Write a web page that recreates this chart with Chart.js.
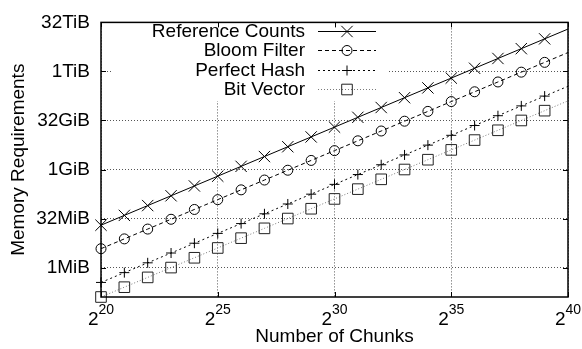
<!DOCTYPE html>
<html>
<head>
<meta charset="utf-8">
<script src="https://cdn.jsdelivr.net/npm/chart.js@4"></script>
<style>
  html, body { margin: 0; padding: 0; background: #fff; }
  #wrap { width: 582px; height: 349px; }
</style>
</head>
<body>
<div id="wrap"><canvas id="memChart" width="582" height="349"></canvas></div>
<script>
// number of chunks, as powers of two (2^20 .. 2^40)
const chunkExps = [20, 21, 22, 23, 24, 25, 26, 27, 28, 29, 30, 31, 32, 33, 34, 35, 36, 37, 38, 39, 40];

// memory requirements in MiB
const refCounts = [20, 40, 80, 160, 320, 640, 1280, 2560, 5120, 10240, 20480, 40960, 81920, 163840, 327680, 655360, 1310720, 2621440, 5242880, 10485760, 20971520];
const bloomFilter = [3.8, 7.6, 15.2, 30.4, 60.8, 121.6, 243.2, 486.4, 972.8, 1945.6, 3891.2, 7782.4, 15564.8, 31129.6, 62259.2, 124518.4, 249036.8, 498073.6, 996147.2, 1992294.4, 3984588.8];
const perfectHash = [0.35, 0.7, 1.4, 2.8, 5.6, 11.2, 22.4, 44.8, 89.6, 179.2, 358.4, 716.8, 1433.6, 2867.2, 5734.4, 11468.8, 22937.6, 45875.2, 91750.4, 183500.8, 367001.6];
const bitVector = [0.125, 0.25, 0.5, 1, 2, 4, 8, 16, 32, 64, 128, 256, 512, 1024, 2048, 4096, 8192, 16384, 32768, 65536, 131072];

const seriesNames = ['Reference Counts', 'Bloom Filter', 'Perfect Hash', 'Bit Vector'];

const xTickExps = [20, 25, 30, 35, 40];
const yTickMiB = [1, 32, 1024, 32768, 1048576, 33554432];
const yTickLabels = ['1MiB', '32MiB', '1GiB', '32GiB', '1TiB', '32TiB'];

const FONT = '"Liberation Sans", Arial, sans-serif';
const lastIdx = chunkExps.length - 1;

const toPoints = vals => chunkExps.map((e, i) => ({ x: e, y: vals[i] }));

const styles = [
  { color: '#000', dash: [], point: 'crossRot', r: 8, pcolor: '#000' },
  { color: '#000', dash: [4, 3], point: 'circle', r: 5, pcolor: '#000' },
  { color: '#000', dash: [2, 3], point: 'cross', r: 5, pcolor: '#000' },
  { color: '#7a7a7a', dash: [1, 2], point: 'rect', r: 7.5, pcolor: '#222' }
];
const seriesData = [refCounts, bloomFilter, perfectHash, bitVector];

function marker(ctx, style, r, x, y) {
  ctx.beginPath();
  if (style === 'crossRot') {
    const o = r * Math.SQRT1_2;
    ctx.moveTo(x - o, y - o); ctx.lineTo(x + o, y + o);
    ctx.moveTo(x - o, y + o); ctx.lineTo(x + o, y - o);
  } else if (style === 'circle') {
    ctx.arc(x, y, r, 0, Math.PI * 2);
  } else if (style === 'cross') {
    ctx.moveTo(x - r, y); ctx.lineTo(x + r, y);
    ctx.moveTo(x, y - r); ctx.lineTo(x, y + r);
  } else {
    const s = r * Math.SQRT1_2;
    ctx.rect(x - s, y - s, 2 * s, 2 * s);
  }
  ctx.stroke();
}

const gnuplotLook = {
  id: 'gnuplotLook',
  beforeDatasetsDraw(chart) {
    // opaque key box hides the grid behind it
    const ctx = chart.ctx;
    ctx.save();
    ctx.fillStyle = '#fff';
    ctx.fillRect(113, 16, 275, 85);
    ctx.restore();
  },
  afterDraw(chart) {
    const { ctx, chartArea: a, scales } = chart;
    ctx.save();
    ctx.setLineDash([]);
    ctx.strokeStyle = '#000';

    // inner tick marks
    ctx.lineWidth = 1;
    ctx.beginPath();
    yTickMiB.forEach(v => {
      const y = Math.round(scales.y.getPixelForValue(v)) + 0.5;
      ctx.moveTo(a.left, y); ctx.lineTo(a.left + 5, y);
      ctx.moveTo(a.right, y); ctx.lineTo(a.right - 5, y);
    });
    xTickExps.forEach(e => {
      const x = Math.round(scales.x.getPixelForValue(e)) + 0.5;
      ctx.moveTo(x, a.bottom); ctx.lineTo(x, a.bottom - 5);
      ctx.moveTo(x, a.top); ctx.lineTo(x, a.top + 5);
    });
    ctx.stroke();

    // border
    ctx.lineWidth = 1.5;
    ctx.strokeRect(a.left, a.top, a.right - a.left, a.bottom - a.top);

    // x tick labels 2^n
    ctx.fillStyle = '#000';
    ctx.textAlign = 'left';
    ctx.textBaseline = 'alphabetic';
    xTickExps.forEach(e => {
      const px = scales.x.getPixelForValue(e);
      ctx.font = '19px ' + FONT;
      const wb = ctx.measureText('2').width;
      ctx.font = '14px ' + FONT;
      const we = ctx.measureText(String(e)).width;
      const x0 = px - (wb + we) / 2;
      ctx.font = '19px ' + FONT;
      ctx.fillText('2', x0, a.bottom + 28);
      ctx.font = '14px ' + FONT;
      ctx.fillText(String(e), x0 + wb, a.bottom + 17);
    });

    // key
    ctx.font = '19px ' + FONT;
    ctx.textAlign = 'right';
    ctx.textBaseline = 'middle';
    seriesNames.forEach((name, i) => {
      const y = 30.5 + i * 19.5;
      const st = styles[i];
      ctx.fillStyle = '#000';
      ctx.fillText(name, 305, y + 1);
      ctx.lineWidth = 1;
      ctx.strokeStyle = st.color;
      ctx.setLineDash(st.dash);
      ctx.beginPath();
      ctx.moveTo(318, Math.round(y) + 0.5);
      ctx.lineTo(376, Math.round(y) + 0.5);
      ctx.stroke();
      ctx.setLineDash([]);
      ctx.strokeStyle = st.pcolor;
      marker(ctx, st.point, st.r, 347, Math.round(y) + 0.5);
    });
    ctx.restore();
  }
};

new Chart(document.getElementById('memChart'), {
  type: 'line',
  data: {
    datasets: seriesNames.map((name, i) => ({
      label: name,
      data: toPoints(seriesData[i]),
      borderColor: styles[i].color,
      borderWidth: 1,
      borderDash: styles[i].dash,
      backgroundColor: 'rgba(0,0,0,0)',
      pointStyle: styles[i].point,
      pointRadius: ctx => (ctx.dataIndex === lastIdx ? 0 : styles[i].r),
      pointBorderColor: styles[i].pcolor,
      pointBackgroundColor: 'rgba(0,0,0,0)',
      pointBorderWidth: 1,
      tension: 0,
      clip: false
    }))
  },
  options: {
    responsive: false,
    animation: false,
    devicePixelRatio: 1,
    layout: { padding: { top: 15, right: 14, left: 0, bottom: 0 } },
    plugins: { legend: { display: false }, tooltip: { enabled: false } },
    scales: {
      x: {
        type: 'linear',
        min: 20,
        max: 40,
        afterBuildTicks: s => { s.ticks = xTickExps.map(v => ({ value: v })); },
        afterFit: s => { s.height = 52; },
        ticks: { callback: () => '', font: { family: FONT, size: 19 } },
        grid: { color: '#555', lineWidth: 1, drawTicks: false },
        border: { display: false, dash: [1, 2] },
        title: {
          display: true,
          text: 'Number of Chunks',
          color: '#000',
          font: { family: FONT, size: 19 },
          padding: { top: 0, bottom: 1 }
        }
      },
      y: {
        type: 'logarithmic',
        min: 0.125,
        max: 33554432,
        afterBuildTicks: s => { s.ticks = yTickMiB.map(v => ({ value: v })); },
        afterFit: s => { s.width = 101; },
        ticks: {
          color: '#000',
          padding: 11,
          font: { family: FONT, size: 19 },
          callback: (v, i) => yTickLabels[i]
        },
        grid: { color: '#555', lineWidth: 1, drawTicks: false },
        border: { display: false, dash: [1, 2] },
        title: {
          display: true,
          text: 'Memory Requirements',
          color: '#000',
          font: { family: FONT, size: 19 },
          padding: { top: 7, bottom: 0 }
        }
      }
    }
  },
  plugins: [gnuplotLook]
});
</script>
</body>
</html>
